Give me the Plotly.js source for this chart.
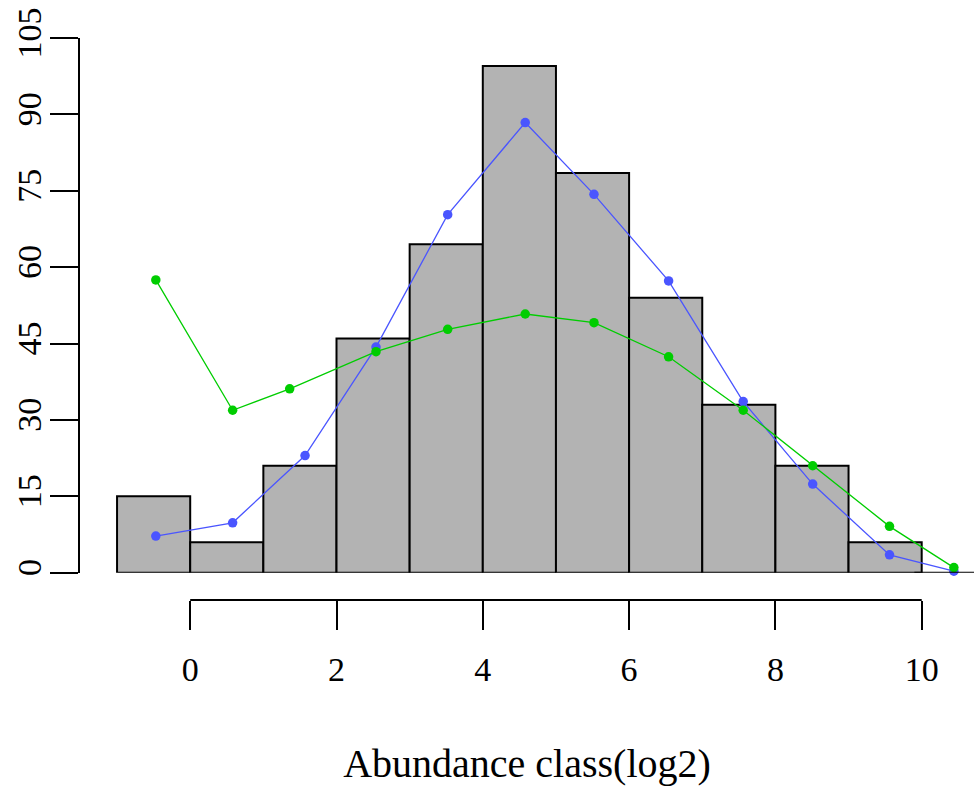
<!DOCTYPE html>
<html>
<head>
<meta charset="utf-8">
<script src="https://cdn.plot.ly/plotly-3.0.1.min.js"></script>
<style>html,body{margin:0;padding:0;background:#fff;}#chart{width:974px;height:786px;}</style>
</head>
<body>
<div id="chart"></div>
<script>
// Histogram of abundance classes (log2)
var binCenters = [-0.5, 0.5, 1.5, 2.5, 3.5, 4.5, 5.5, 6.5, 7.5, 8.5, 9.5];
var binCounts  = [15, 6, 21, 46, 64.5, 99.5, 78.5, 54, 33, 21, 6];

// Blue fitted series
var blueX = [-0.47, 0.58, 1.57, 2.54, 3.52, 4.58, 5.52, 6.54, 7.56, 8.51, 9.56, 10.44];
var blueY = [7.2, 9.8, 23.0, 44.3, 70.3, 88.4, 74.3, 57.3, 33.6, 17.4, 3.5, 0.3];

// Green fitted series
var greenX = [-0.47, 0.58, 1.36, 2.54, 3.52, 4.58, 5.52, 6.54, 7.56, 8.51, 9.56, 10.44];
var greenY = [57.5, 31.9, 36.1, 43.4, 47.8, 50.8, 49.1, 42.4, 31.9, 21.0, 9.1, 1.0];

var xTicks = [0, 2, 4, 6, 8, 10];
var yTicks = [0, 15, 30, 45, 60, 75, 90, 105];

var FONT = "Liberation Serif, Times New Roman, serif";

var traces = [
  {
    type: 'bar', x: binCenters, y: binCounts, width: 1,
    marker: {color: '#b3b3b3', line: {color: '#000', width: 2}},
    hoverinfo: 'none', showlegend: false
  },
  {
    type: 'scatter', mode: 'lines+markers', x: blueX, y: blueY,
    line: {color: '#4a55ff', width: 1.3},
    marker: {color: '#4a55ff', size: 9.5},
    cliponaxis: false, showlegend: false
  },
  {
    type: 'scatter', mode: 'lines+markers', x: greenX, y: greenY,
    line: {color: '#00cd00', width: 1.3},
    marker: {color: '#00cd00', size: 9.5},
    cliponaxis: false, showlegend: false
  }
];

var layout = {
  width: 974, height: 786,
  margin: {l: 80, r: 0, t: 38, b: 186, pad: 0},
  paper_bgcolor: '#fff', plot_bgcolor: '#fff',
  font: {family: FONT, color: '#000', size: 34},
  showlegend: false,
  bargap: 0,
  xaxis: {
    range: [-1.5065, 10.715],
    anchor: 'free', position: 0,
    showgrid: false, zeroline: false, showline: false,
    tickmode: 'array', tickvals: xTicks, ticktext: xTicks.map(String),
    ticks: 'outside', ticklen: 29, tickwidth: 2, tickcolor: '#000',
    ticklabelstandoff: 10,
    tickfont: {family: FONT, size: 34, color: '#000'},
    title: {text: 'Abundance class(log2)', font: {family: FONT, size: 40, color: '#000'}, standoff: 62}
  },
  yaxis: {
    domain: [0.0486, 1],
    range: [0, 105],
    showgrid: false, zeroline: false,
    showline: true, linewidth: 2, linecolor: '#000',
    tickmode: 'array', tickvals: yTicks, ticktext: yTicks.map(String),
    ticks: 'outside', ticklen: 28, tickwidth: 2, tickcolor: '#000',
    tickangle: -90,
    ticklabelstandoff: -5,
    tickfont: {family: FONT, size: 34, color: '#000'}
  },
  shapes: [
    {type: 'line', xref: 'x', yref: 'paper', x0: 0, x1: 10, y0: 0, y1: 0,
     line: {color: '#000', width: 2}},
    {type: 'line', xref: 'x', yref: 'y', x0: 9.9, x1: 11, y0: 0, y1: 0,
     line: {color: '#000', width: 2}}
  ]
};

Plotly.newPlot('chart', traces, layout, {staticPlot: true, displayModeBar: false});
</script>
</body>
</html>
